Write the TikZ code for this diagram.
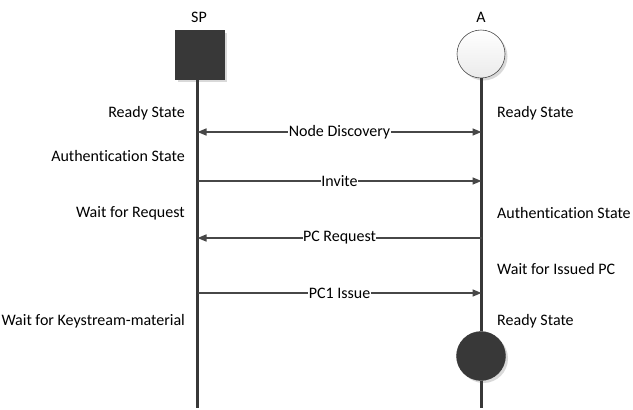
\documentclass[tikz,border=0pt]{standalone}
\usepackage{fontspec}
\setmainfont{Carlito}[Ligatures=CommonOff]
\usetikzlibrary{arrows.meta,shadows}
\begin{document}
\begin{tikzpicture}[x=1pt,y=-1pt,
  every node/.style={font=\fontsize{16}{18}\selectfont, text=black, inner sep=1pt},
  life/.style={draw=black!78, line width=2.6pt},
  msg/.style={draw=black!72, line width=1.5pt, -{Triangle[length=9pt,width=7pt]}},
  dmsg/.style={draw=black!72, line width=1.5pt, {Triangle[length=9pt,width=7pt]}-{Triangle[length=9pt,width=7pt]}},
  lbl/.style={fill=white, inner sep=0.5pt},
  lstate/.style={anchor=east},
  rstate/.style={anchor=west},
  shad/.style={drop shadow={shadow xshift=2.5pt, shadow yshift=-2.5pt, fill=black!15, opacity=1}}
]
\useasboundingbox (0,0) rectangle (633,410);
% actors
\node[shad, draw=black!78, fill=black!78, minimum size=49pt, inner sep=0pt] (sp) at (199.5,54.5) {};
\node[shad, circle, draw=black!70, line width=0.6pt, top color=white, bottom color=black!8, minimum size=48pt, inner sep=0pt] (a) at (481,54) {};
\node (spl) at (199,17) {SP};
\node (al) at (481,17) {A};
% lifelines
\coordinate (spb) at (197.5,408);
\coordinate (ab) at (481.5,408);
\coordinate (sp1) at (197.5,132);
\coordinate (sp2) at (197.5,181);
\coordinate (sp3) at (197.5,238);
\coordinate (sp4) at (197.5,293);
\coordinate (a1) at (481.5,132);
\coordinate (a2) at (481.5,181);
\coordinate (a3) at (481.5,238);
\coordinate (a4) at (481.5,293);
\node[shad, circle, draw=black!78, fill=black!78, minimum size=49pt, inner sep=0pt] (end) at (481,356) {};
\draw[life] (sp.south -| spb) -- (spb);
\draw[life] (a.south -| ab) -- (end.north -| ab);
\draw[life] (end.south -| ab) -- (ab);
% messages
\draw[dmsg] (sp1) -- node[lbl] {Node Discovery} (a1);
\draw[msg] (sp2) -- node[lbl] {Invite} (a2);
\draw[msg] (a3) -- node[lbl, pos=0.5] {PC Request} (sp3);
\draw[msg] (sp4) -- node[lbl] {PC1 Issue} (a4);
% states
\node[lstate] (l1) at (186,113.5) {Ready State};
\node[lstate] (l2) at (186,156) {Authentication State};
\node[lstate] (l3) at (186,213) {Wait for Request};
\node[lstate] (l4) at (186,321.5) {Wait for Keystream-material};
\node[rstate] (r1) at (496,113.5) {Ready State};
\node[rstate] (r2) at (496,213) {Authentication State};
\node[rstate] (r3) at (496,269) {Wait for Issued PC};
\node[rstate] (r4) at (496,321.5) {Ready State};
\end{tikzpicture}
\end{document}
